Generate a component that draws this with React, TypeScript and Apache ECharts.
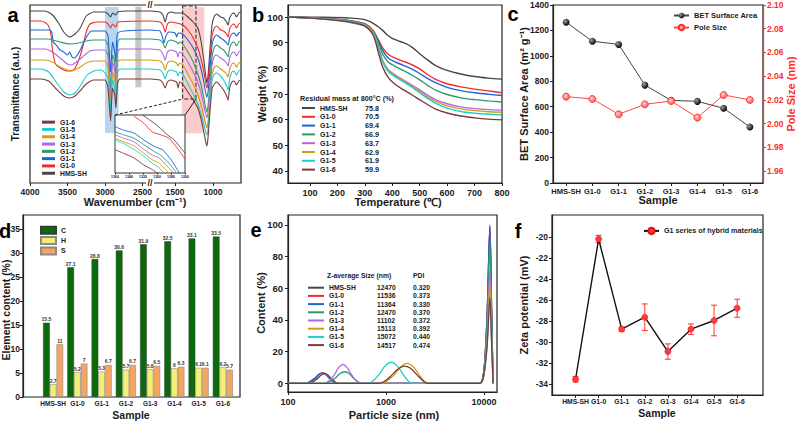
import React, { useEffect, useRef } from "react";
import * as echarts from "echarts";

// ---------------- data ----------------
const SAMPLES = ["HMS-SH", "G1-0", "G1-1", "G1-2", "G1-3", "G1-4", "G1-5", "G1-6"];

// (a) FTIR, left section (4000-2400 cm-1): [wavenumber, transmittance a.u.]
const FTIR_LEFT = [
  [[4000,189],[3800,189],[3700,185],[3620,177],[3550,168],[3470,163],[3400,166],[3330,172],[3250,184],[3150,188],[3000,188],[2960,186],[2925,183],[2900,187],[2855,185],[2830,188],[2700,189],[2400,189]],
  [[4000,179],[3850,179],[3760,175],[3720,165],[3700,150],[3660,136],[3600,132],[3500,129],[3420,130],[3360,138],[3300,152],[3250,168],[3200,176],[3100,178],[3000,178],[2960,176],[2925,172],[2900,176],[2855,173],[2830,178],[2400,179]],
  [[4000,170],[3750,170],[3710,168],[3690,158],[3650,155],[3600,150],[3550,148],[3500,145],[3470,148],[3440,143],[3400,142],[3370,145],[3330,150],[3280,158],[3230,165],[3180,169],[3000,169],[2960,164],[2925,128],[2900,158],[2870,148],[2855,138],[2830,167],[2400,170]],
  [[4000,161],[3750,161],[3700,160],[3600,158],[3470,156],[3350,157],[3250,159],[3150,160],[3000,160],[2960,154],[2925,108],[2900,145],[2870,138],[2855,122],[2830,158],[2800,161],[2400,161]],
  [[4000,151],[3800,151],[3700,148],[3600,142],[3500,136],[3450,135],[3400,137],[3300,143],[3200,149],[3100,150],[3000,150],[2960,144],[2925,100],[2900,138],[2870,130],[2855,115],[2830,148],[2800,151],[2400,151]],
  [[4000,140],[3800,140],[3700,138],[3600,133],[3500,130],[3450,129],[3350,132],[3250,137],[3150,139],[3000,139],[2960,133],[2925,94],[2900,128],[2870,120],[2855,108],[2830,138],[2800,140],[2400,140]],
  [[4000,131],[3850,131],[3750,128],[3650,118],[3550,108],[3470,105],[3400,107],[3320,115],[3250,124],[3150,129],[3050,130],[2960,122],[2925,88],[2900,120],[2870,112],[2855,100],[2830,128],[2800,131],[2400,131]],
  [[4000,121],[3850,121],[3750,119],[3650,111],[3550,104],[3470,102],[3400,104],[3320,110],[3250,116],[3150,120],[3000,120],[2960,112],[2925,79],[2900,112],[2870,105],[2855,92],[2830,118],[2800,121],[2400,121]],
];

// (a) FTIR, right section (1830-630 cm-1)
const WN_R_A = [1830,1700,1660,1630,1600,1560,1480,1400,1330,1260,1200,1160,1120,1095,1080,1065,1040,1010,980,950,900,860,820,800,780,750,720,690,660,630];
const WN_R_B = [1830,1700,1670,1645,1620,1580,1500,1478,1460,1400,1330,1260,1200,1160,1120,1095,1080,1065,1040,1010,980,950,900,860,820,800,780,750,720,690,660,630];
const WN_R_C = [1830,1700,1660,1630,1600,1560,1480,1460,1440,1400,1330,1260,1200,1160,1120,1095,1080,1065,1040,1010,980,950,900,860,820,800,780,750,720,690,660,630];
const FTIR_RIGHT_WN = [WN_R_A, WN_R_A, WN_R_B, WN_R_C, WN_R_C, WN_R_C, WN_R_C, WN_R_C];
const FTIR_RIGHT_T = [
  [189,188,185,178,186,188,187,187,183,178,172,160,140,124,117,124,150,176,184,186,183,182,178,175,182,186,187,183,187,188],
  [179,178,175,168,176,178,177,175,170,162,152,142,128,117,112,118,140,165,172,174,170,169,166,163,171,175,176,172,176,177],
  [170,169,164,157,164,168,167,163,167,166,160,152,142,132,118,107,103,108,130,156,163,165,162,160,157,155,162,166,167,164,167,168],
  [161,160,157,152,158,160,158,156,158,156,148,138,126,116,102,92,88,94,116,144,153,155,152,150,146,143,152,157,158,154,158,159],
  [151,150,146,140,148,150,148,143,148,146,138,128,118,108,95,86,82,88,108,136,144,145,142,140,137,134,142,147,148,144,148,149],
  [140,139,136,130,137,139,137,134,137,135,126,116,106,96,84,76,72,78,100,126,133,134,131,129,126,123,131,136,137,133,137,138],
  [131,130,127,121,128,130,128,124,128,126,116,106,96,87,76,68,65,71,94,120,126,127,124,120,114,110,121,128,129,125,129,130],
  [121,120,117,112,118,120,118,112,118,116,108,100,92,82,68,58,54,62,88,112,116,118,114,110,104,100,112,118,119,115,119,120],
];

// (a) inset (1360-1260 cm-1)
const FTIR_INSET = [
  [[1321,100],[1307,88.6],[1295,77],[1285,65.7],[1275.5,57],[1260,34]],
  [[1333,98],[1319,86],[1307,71],[1295,66],[1283,60],[1271,43],[1260,24]],
  [[1360,80],[1348,74],[1333,69],[1319,57],[1304,46],[1292,40],[1280,23],[1268,0]],
  [[1360,71],[1348,66],[1333,60],[1319,49],[1304,37],[1295,31],[1283,17],[1272,0]],
  [[1360,66],[1348,60],[1333,54],[1319,41],[1307,31],[1297,26],[1285,11],[1276,0]],
  [[1360,60],[1348,54],[1333,47],[1319,34],[1307,23],[1297,17],[1283,0]],
  [[1360,57],[1348,51],[1333,41],[1319,29],[1307,17],[1297,9],[1290,0]],
  [[1360,40],[1348,34],[1333,26],[1319,14],[1307,6],[1300,0]],
];
const A_TICKS_L = [2500, 3000, 3500, 4000];
const A_TICKS_R = [1000, 1500];
const INSET_TICKS = [1260, 1280, 1300, 1320, 1340, 1360];

// (b) TGA
const TGA_HMS = [[20,100],[150,99.9],[250,99.6],[290,99.2],[320,98.2],[345,96.5],[365,94.8],[380,93.2],[400,91.7],[420,90.8],[450,89.6],[475,88],[500,85.7],[530,83.2],[560,81],[600,79.2],[650,77.8],[700,76.8],[750,76.2],[800,75.8]];
const TGA_TEMPS = [20,100,200,250,300,330,350,365,385,410,440,470,500,530,560,600,650,700,750,800];
const TGA_G1 = [
  [100,99.7,99.1,98.6,97.4,94.8,91,88,85.5,84,82.8,81.5,79.8,77.5,75.6,74,72.8,71.9,71.2,70.5],
  [100,99.7,99.1,98.5,97.2,94.5,90.5,87,84,82.5,81.2,79.8,78,76,74.3,72.6,71.3,70.5,69.9,69.4],
  [100,99.7,99,98.4,97,94.2,89.5,85.5,82.5,80.8,79.2,77.5,75.5,73.3,71.4,69.8,68.5,67.8,67.3,66.9],
  [100,99.6,98.6,97.8,96.5,93.8,88,83,79.5,77.5,75.5,73.6,71.6,69.5,67.7,66.2,65,64.3,63.9,63.7],
  [100,99.7,99,98.3,97,94,88.5,83,79.2,77.2,75.2,73.2,71,68.8,67,65.4,64.2,63.5,63.1,62.9],
  [100,99.7,98.9,98.2,96.8,93.6,88,82.5,78.8,76.8,74.8,72.8,70.5,68.2,66.2,64.5,63.2,62.5,62.1,61.9],
  [100,99.6,98.7,98,96.5,93,86,80.5,76.5,73.8,71.7,69.8,67.8,65.8,64,62.6,61.4,60.7,60.2,59.9],
];
const RESIDUAL = ["75.8", "70.5", "69.4", "66.9", "63.7", "62.9", "61.9", "59.9"];
const B_X_TICKS = [100, 200, 300, 400, 500, 600, 700, 800];
const B_Y_TICKS = [40, 50, 60, 70, 80, 90, 100];

// (c) BET / pore size
const BET = [1265, 1115, 1090, 770, 650, 642, 588, 440];
const PORE = [2.0228, 2.0208, 2.0079, 2.0163, 2.0191, 2.0051, 2.0242, 2.02];
const C_RIGHT_TICKS = [1.96, 1.98, 2.0, 2.02, 2.04, 2.06, 2.08, 2.1];

// (d) element content
const C_CONTENT = [15.5, 27.1, 28.8, 30.6, 31.9, 32.5, 33.1, 33.5];
const H_CONTENT = [2.7, 5.2, 5.3, 5.7, 5.8, 6, 6.1, 6.2];
const S_CONTENT = [11, 7, 6.7, 6.7, 6.5, 6.3, 6.1, 5.7];
const D_Y_TICKS = [0, 5, 10, 15, 20, 25, 30, 35];

// (e) DLS particle size
const DLS = [
  [[100,0],[160,0],[172,0.5],[198,2.8],[218,5.2],[236,6],[256,5.2],[280,2.8],[310,0.5],[340,0],[9000,0],[9700,3],[10200,14],[10800,45],[11500,100],[12000,45],[12400,0]],
  [[100,0],[150,0],[165,0.5],[190,3],[210,5.8],[228,6.7],[248,5.8],[272,3],[300,0.6],[330,0],[9000,0],[9700,3],[10200,14],[10800,44],[11500,97],[12000,44],[12400,0]],
  [[100,0],[150,0],[160,0.5],[185,3],[205,5.6],[222,6.4],[242,5.5],[265,3],[292,0.6],[320,0],[9000,0],[9700,3],[10200,14],[10800,44],[11500,98.5],[12000,44],[12400,0]],
  [[100,0],[230,0],[260,0.6],[300,3],[340,6.2],[380,7.3],[420,6.2],[470,3],[530,0.6],[580,0],[9000,0],[9700,3],[10200,13],[10800,40],[11500,90],[12000,40],[12400,0]],
  [[100,0],[230,0],[255,1],[295,5],[330,10],[365,12],[400,10],[450,5],[510,1],[560,0],[9000,0],[9700,2],[10200,11],[10800,32],[11500,72],[12000,32],[12400,0]],
  [[100,0],[900,0],[1000,1],[1200,5],[1420,10.5],[1650,12.6],[1900,10.5],[2200,5],[2500,1],[2700,0],[9000,0],[9700,2],[10200,10],[10800,28],[11500,63],[12000,28],[12400,0]],
  [[100,0],[650,0],[720,1],[850,5.5],[980,11],[1130,13.3],[1300,11],[1500,5.5],[1720,1],[1880,0],[9000,0],[9700,2],[10200,9],[10800,25],[11500,55],[12000,25],[12400,0]],
  [[100,0],[850,0],[950,1],[1120,4.5],[1330,9],[1550,10.9],[1780,9.5],[2100,5],[2450,1],[2650,0],[9000,0],[9700,2],[10200,9],[10800,24],[11500,54],[12000,24],[12400,0]],
];
const ZAVG = ["12470", "11536", "11364", "12470", "11102", "15113", "15072", "14517"];
const PDI = ["0.320", "0.373", "0.330", "0.370", "0.372", "0.392", "0.440", "0.474"];
const E_Y_TICKS = [0, 20, 40, 60, 80, 100];

// (f) zeta potential
const ZETA = [-33.55, -20.19, -28.78, -27.64, -30.91, -28.78, -27.95, -26.78];
const ZETA_ERR = [0.27, 0.35, 0.2, 1.27, 0.73, 0.5, 1.46, 0.86];
const F_Y_TICKS = [-34, -32, -30, -28, -26, -24, -22, -20];
const F_X_TICKS = [0, 1, 2, 3, 4, 5, 6, 7];

// ---------------- styles ----------------
const COLORS = ["#474747", "#f52b2b", "#1f63d6", "#2a9b6c", "#b067e3", "#d49b12", "#22cccc", "#7b3a3a"];
const FONT = "'Liberation Sans', Arial, Helvetica, sans-serif";
const INK = "#1b1b1b";
const txt = (size: number, extra: any = {}) => ({ fontFamily: FONT, fontWeight: "bold", fontSize: size, color: INK, ...extra });
const frameStyle = { show: true, borderColor: "#222", borderWidth: 1.2, backgroundColor: "transparent" };
const lineAx = { show: true, onZero: false, lineStyle: { color: "#222", width: 1.2 } };
const noLine = { show: false, onZero: false };
const tickSt = (len = 3, color = "#222") => ({ show: true, length: len, lineStyle: { color, width: 1 } });
const plain = (v: number) => String(Math.round(v * 1000) / 1000);

function buildOption() {
  const zip = (xs: number[], ys: number[]) => xs.map((x, i) => [x, ys[i]]);

  const grid = [
    { left: 30, top: 5, width: 211, height: 178, ...frameStyle }, // 0 a frame
    { left: 30, top: 5, width: 120, height: 178 }, // 1 a left
    { left: 150, top: 5, width: 91, height: 178 }, // 2 a right
    { left: 115, top: 115, width: 70, height: 58, show: true, borderColor: "#333", borderWidth: 1, backgroundColor: "#fff", z: 10 }, // 3 inset
    { left: 288, top: 5, width: 214, height: 178, ...frameStyle }, // 4 b
    { left: 553, top: 5, width: 210, height: 178, ...frameStyle }, // 5 c
    { left: 23, top: 215, width: 217, height: 182, ...frameStyle }, // 6 d frame
    { left: 41, top: 215, width: 194, height: 182 }, // 7 d data
    { left: 288, top: 215, width: 209, height: 177, ...frameStyle }, // 8 e
    { left: 552, top: 215, width: 211, height: 180, ...frameStyle }, // 9 f
  ];

  const xAxis: any[] = [
    { gridIndex: 1, type: "value", min: 2400, max: 4000, inverse: true, axisLine: noLine, splitLine: { show: false },
      axisTick: { ...tickSt(3), customValues: A_TICKS_L }, axisLabel: { customValues: A_TICKS_L, formatter: plain, margin: 4, ...txt(8.5) } },
    { gridIndex: 2, type: "value", min: 630, max: 1830, inverse: true, axisLine: noLine, splitLine: { show: false },
      axisTick: { ...tickSt(3), customValues: A_TICKS_R }, axisLabel: { customValues: A_TICKS_R, formatter: plain, margin: 4, ...txt(8.5) } },
    { gridIndex: 3, type: "value", min: 1260, max: 1360, inverse: true, z: 12, axisLine: noLine, splitLine: { show: false },
      axisTick: { ...tickSt(1.5), customValues: INSET_TICKS }, axisLabel: { customValues: INSET_TICKS, formatter: plain, margin: 2, ...txt(3.6) } },
    { gridIndex: 4, type: "value", min: 20, max: 800, axisLine: lineAx, splitLine: { show: false },
      axisTick: { ...tickSt(3), customValues: B_X_TICKS }, axisLabel: { customValues: B_X_TICKS, formatter: plain, margin: 5, ...txt(9) } },
    { gridIndex: 5, type: "category", data: SAMPLES, axisLine: lineAx, splitLine: { show: false },
      axisTick: { ...tickSt(3), alignWithLabel: true }, axisLabel: { interval: 0, margin: 4, ...txt(7.5) } },
    { gridIndex: 7, type: "category", data: SAMPLES, axisLine: noLine, splitLine: { show: false },
      axisTick: { show: false }, axisLabel: { interval: 0, margin: 3, ...txt(6.5) } },
    { gridIndex: 8, type: "log", logBase: 10, min: 100, max: 13600, axisLine: lineAx, splitLine: { show: false },
      axisTick: tickSt(3), axisLabel: { margin: 5, formatter: (v: number) => String(Math.round(v)), ...txt(9) } },
    { gridIndex: 9, type: "value", min: -1.02, max: 8.12, axisLine: lineAx, splitLine: { show: false },
      axisTick: { ...tickSt(3), customValues: F_X_TICKS },
      axisLabel: { customValues: F_X_TICKS, margin: 3, formatter: (v: number) => SAMPLES[Math.round(v)] ?? "", ...txt(6.8) } },
  ];

  const yAxis: any[] = [
    { gridIndex: 1, type: "value", min: 17, max: 195, show: false },
    { gridIndex: 2, type: "value", min: 17, max: 195, show: false },
    { gridIndex: 3, type: "value", min: 0, max: 100, show: false },
    { gridIndex: 4, type: "value", min: 35.3, max: 104.7, axisLine: lineAx, splitLine: { show: false },
      axisTick: { ...tickSt(3), customValues: B_Y_TICKS }, axisLabel: { customValues: B_Y_TICKS, formatter: plain, margin: 5, ...txt(9.5) } },
    { gridIndex: 5, type: "value", min: 0, max: 1400, interval: 200, axisLine: lineAx, splitLine: { show: false },
      axisTick: tickSt(3), axisLabel: { margin: 4, formatter: plain, ...txt(8.5) } },
    { gridIndex: 5, type: "value", position: "right", min: 1.95, max: 2.1,
      axisLine: { show: true, onZero: false, lineStyle: { color: "#ff2a2a", width: 1.2 } }, splitLine: { show: false },
      axisTick: { ...tickSt(3, "#ff2a2a"), customValues: C_RIGHT_TICKS },
      axisLabel: { customValues: C_RIGHT_TICKS, margin: 4, formatter: (v: number) => v.toFixed(2), ...txt(8.5, { color: "#ff2a2a" }) } },
    { gridIndex: 7, type: "value", min: 0, max: 38, offset: 18, axisLine: lineAx, splitLine: { show: false },
      axisTick: { ...tickSt(3), customValues: D_Y_TICKS }, axisLabel: { customValues: D_Y_TICKS, formatter: plain, margin: 3, ...txt(8.5) } },
    { gridIndex: 8, type: "value", min: -5.5, max: 106.3, axisLine: lineAx, splitLine: { show: false },
      axisTick: { ...tickSt(3), customValues: E_Y_TICKS }, axisLabel: { customValues: E_Y_TICKS, formatter: plain, margin: 5, ...txt(9.5) } },
    { gridIndex: 9, type: "value", min: -35.05, max: -17.9, axisLine: lineAx, splitLine: { show: false },
      axisTick: { ...tickSt(3), customValues: F_Y_TICKS }, axisLabel: { customValues: F_Y_TICKS, formatter: plain, margin: 4, ...txt(8.5) } },
  ];

  const series: any[] = [];

  // (a) shaded bands
  series.push({
    type: "line", xAxisIndex: 0, yAxisIndex: 0, data: [[2400, 17]], symbol: "none", silent: true, z: 1,
    lineStyle: { opacity: 0 },
    markArea: { silent: true, data: [
      [{ xAxis: 3000, yAxis: 193, itemStyle: { color: "rgba(122,172,222,0.5)" } }, { xAxis: 2820, yAxis: 67 }],
      [{ xAxis: 2596, yAxis: 193.3, itemStyle: { color: "rgba(160,160,160,0.6)" } }, { xAxis: 2516, yAxis: 112.7 }],
    ] },
  });
  series.push({
    type: "line", xAxisIndex: 1, yAxisIndex: 1, data: [[630, 17]], symbol: "none", silent: true, z: 1,
    lineStyle: { opacity: 0 },
    markArea: { silent: true, data: [
      [{ xAxis: 1412, yAxis: 192.7, itemStyle: { color: "rgba(244,140,140,0.45)" } }, { xAxis: 1114, yAxis: 66.7 }],
      [{ xAxis: 1399, yAxis: 194, itemStyle: { color: "rgba(0,0,0,0)", borderColor: "#222", borderWidth: 1, borderType: "dashed" } }, { xAxis: 1224, yAxis: 101 }],
    ] },
  });

  SAMPLES.forEach((name, i) => {
    const base = { name, type: "line", symbol: "none", smooth: 0.2, color: COLORS[i], lineStyle: { width: 1.1, color: COLORS[i] } };
    series.push({ ...base, xAxisIndex: 0, yAxisIndex: 0, z: 3, data: FTIR_LEFT[i] });
    series.push({ ...base, xAxisIndex: 1, yAxisIndex: 1, z: 3, data: zip(FTIR_RIGHT_WN[i], FTIR_RIGHT_T[i]) });
    series.push({ ...base, xAxisIndex: 2, yAxisIndex: 2, z: 12, lineStyle: { width: 0.9, color: COLORS[i] }, data: FTIR_INSET[i] });
    const tga = i === 0 ? TGA_HMS : zip(TGA_TEMPS, TGA_G1[i - 1]);
    series.push({ ...base, xAxisIndex: 3, yAxisIndex: 3, smooth: 0.3, z: 3, lineStyle: { width: 1.4, color: COLORS[i] }, data: tga });
    series.push({ ...base, xAxisIndex: 6, yAxisIndex: 7, smooth: 0.3, z: 3, lineStyle: { width: 1.3, color: COLORS[i] }, data: DLS[i] });
  });

  // (c)
  series.push({
    name: "BET Surface Area", type: "line", xAxisIndex: 4, yAxisIndex: 4, data: BET, symbol: "circle", symbolSize: 7,
    color: "#111", lineStyle: { color: "#444", width: 1 },
    itemStyle: { color: new echarts.graphic.RadialGradient(0.35, 0.35, 0.7, [{ offset: 0, color: "#9a9a9a" }, { offset: 1, color: "#000" }]) },
  });
  series.push({
    name: "Pole Size", type: "line", xAxisIndex: 4, yAxisIndex: 5, data: PORE, symbol: "circle", symbolSize: 7,
    color: "#ff3a3a", lineStyle: { color: "#ff4a4a", width: 1 },
    itemStyle: { color: new echarts.graphic.RadialGradient(0.4, 0.4, 0.7, [{ offset: 0, color: "#ffd0d0" }, { offset: 1, color: "#ff4040" }]), borderColor: "#ff2a2a", borderWidth: 0.8 },
  });

  // (d)
  const barLabel = { show: true, position: "top", distance: 1, ...txt(5, { color: "#333" }) };
  series.push({ name: "C", type: "bar", xAxisIndex: 5, yAxisIndex: 6, data: C_CONTENT, barWidth: 6.7, barGap: "0%",
    itemStyle: { color: "#0b6a0b", borderColor: "#3a3a3a", borderWidth: 0.5 }, label: barLabel });
  series.push({ name: "H", type: "bar", xAxisIndex: 5, yAxisIndex: 6, data: H_CONTENT, barWidth: 6.7, barGap: "0%",
    itemStyle: { color: "#f3ee74", borderColor: "#8a8a8a", borderWidth: 0.6 }, label: barLabel });
  series.push({ name: "S", type: "bar", xAxisIndex: 5, yAxisIndex: 6, data: S_CONTENT, barWidth: 6.7, barGap: "0%",
    itemStyle: { color: "#f5a562", borderColor: "#8a8a8a", borderWidth: 0.6 }, label: barLabel });

  // (f)
  series.push({
    type: "custom", xAxisIndex: 7, yAxisIndex: 8, z: 3, silent: true,
    data: ZETA.map((v, i) => [i, v - ZETA_ERR[i], v + ZETA_ERR[i]]),
    encode: { x: 0, y: [1, 2] },
    renderItem: (params: any, api: any) => {
      const x = api.value(0);
      const p1 = api.coord([x, api.value(1)]);
      const p2 = api.coord([x, api.value(2)]);
      const w = 3;
      const st = { stroke: "#ff3030", lineWidth: 1 };
      return { type: "group", children: [
        { type: "line", shape: { x1: p1[0], y1: p1[1], x2: p2[0], y2: p2[1] }, style: st },
        { type: "line", shape: { x1: p1[0] - w, y1: p1[1], x2: p1[0] + w, y2: p1[1] }, style: st },
        { type: "line", shape: { x1: p2[0] - w, y1: p2[1], x2: p2[0] + w, y2: p2[1] }, style: st },
      ] };
    },
  });
  series.push({
    name: "G1 series of hybrid materials", type: "line", xAxisIndex: 7, yAxisIndex: 8, z: 4,
    data: ZETA.map((v, i) => [i, v]), symbol: "circle", symbolSize: 6,
    color: "#ff3030", lineStyle: { color: "#111", width: 1.4 },
    itemStyle: { color: "#ff3a3a", borderColor: "#e01010", borderWidth: 0.6 },
  });

  const legend: any[] = [
    { data: [...SAMPLES].reverse(), orient: "vertical", left: 42, top: 118.5, padding: 0, itemWidth: 13, itemHeight: 3, itemGap: 0,
      icon: "rect", selectedMode: false, textStyle: { ...txt(6.8), lineHeight: 7.3 } },
    { data: SAMPLES, orient: "vertical", left: 302, top: 103.6, padding: 0, itemWidth: 13, itemHeight: 2, itemGap: 0,
      icon: "rect", selectedMode: false,
      formatter: (n: string) => `{n|${n}}{v|${RESIDUAL[SAMPLES.indexOf(n)]}}`,
      textStyle: { ...txt(7), lineHeight: 8.8, rich: { n: { ...txt(7), width: 45 }, v: txt(7.2) } } },
    { data: ["BET Surface Area", "Pole Size"], orient: "vertical", left: 673, top: 11.5, padding: 0, itemWidth: 15, itemHeight: 7,
      itemGap: 4, selectedMode: false, textStyle: txt(7.5) },
    { data: ["C", "H", "S"], orient: "vertical", left: 40, top: 225.8, padding: 0, itemWidth: 15, itemHeight: 7, itemGap: 1.3,
      icon: "rect", selectedMode: false, textStyle: txt(7) },
    { data: SAMPLES, orient: "vertical", left: 308, top: 283.6, padding: 0, itemWidth: 16, itemHeight: 2, itemGap: 0,
      icon: "rect", selectedMode: false,
      formatter: (n: string) => { const k = SAMPLES.indexOf(n); return `{n|${n}}{s|${ZAVG[k]}}{p|${PDI[k]}}`; },
      textStyle: { ...txt(6.8), lineHeight: 8.2, rich: { n: { ...txt(6.8), width: 48 }, s: { ...txt(6.8), width: 36 }, p: txt(6.8) } } },
    { data: ["G1 series of hybrid materials"], left: 643, top: 226.7, padding: 0, itemWidth: 15, itemHeight: 8,
      selectedMode: false, textStyle: txt(7.2) },
  ];

  const letter = (t: string, x: number, y: number) => ({ type: "text", x, y, z: 20,
    style: { text: t, font: `bold 20px ${FONT}`, fill: "#000", align: "center", verticalAlign: "middle" } });
  const title = (t: string, x: number, y: number, rot = 0, color = INK, size = 11) => ({ type: "text", x, y, rotation: rot, z: 20,
    style: { text: t, font: `bold ${size}px ${FONT}`, fill: color, align: "center", verticalAlign: "middle" } });
  const note = (t: string, x: number, y: number, size = 7) => ({ type: "text", x, y, z: 20,
    style: { text: t, font: `bold ${size}px ${FONT}`, fill: INK, align: "left", verticalAlign: "middle" } });
  const brk = (y: number) => ({ type: "group", z: 20, children: [
    { type: "rect", shape: { x: 146, y: y - 3, width: 8, height: 6 }, style: { fill: "#fff" } },
    { type: "text", x: 150, y, style: { text: "//", font: `bold 9px ${FONT}`, fill: "#222", align: "center", verticalAlign: "middle" } },
  ] });

  const graphic = [
    letter("a", 13, 15), letter("b", 258, 15), letter("c", 513, 13.5),
    letter("d", 5, 231), letter("e", 256, 230), letter("f", 518, 230.5),
    title("Wavenumber (cm⁻¹)", 135, 202), title("Transmittance (a.u.)", 15, 94, Math.PI / 2, INK, 10),
    title("Temperature (℃)", 398, 202), title("Weight (%)", 262, 94, Math.PI / 2),
    title("Sample", 658, 200), title("BET Surface Area (m² g⁻¹)", 524, 94, Math.PI / 2),
    title("Pole Size (nm)", 791, 94, Math.PI / 2, "#ff2a2a"),
    title("Sample", 131, 414.5, 0, INK, 10.5), title("Element content (%)", 5.5, 310, Math.PI / 2, INK, 10.5),
    title("Particle size (nm)", 394, 415), title("Content (%)", 261, 303, Math.PI / 2),
    title("Sample", 657, 412.5, 0, INK, 10.5), title("Zeta potential (mV)", 524, 305, Math.PI / 2),
    note("Residual mass at 800°C (%)", 300, 98, 7.2),
    note("Z-average Size (nm)", 327, 275.7, 6.8), note("PDI", 413, 275.7, 6.8),
    brk(5), brk(183),
    { type: "line", z: 15, shape: { x1: 115, y1: 115, x2: 183, y2: 99 }, style: { stroke: "#222", lineWidth: 1, lineDash: [3, 2] } },
    { type: "line", z: 15, shape: { x1: 185, y1: 115, x2: 196, y2: 99 }, style: { stroke: "#222", lineWidth: 1 } },
  ];

  return {
    backgroundColor: "#fff",
    animation: false,
    textStyle: { fontFamily: FONT },
    grid, xAxis, yAxis, series, legend, graphic,
  };
}

export default function App() {
  const ref = useRef<HTMLDivElement>(null);
  useEffect(() => {
    const chart = echarts.init(ref.current as HTMLDivElement, null, { renderer: "svg" });
    chart.setOption(buildOption() as any);
    return () => chart.dispose();
  }, []);
  return <div ref={ref} style={{ position: "absolute", left: 0, top: 0, width: 798, height: 422, background: "#fff" }} />;
}
